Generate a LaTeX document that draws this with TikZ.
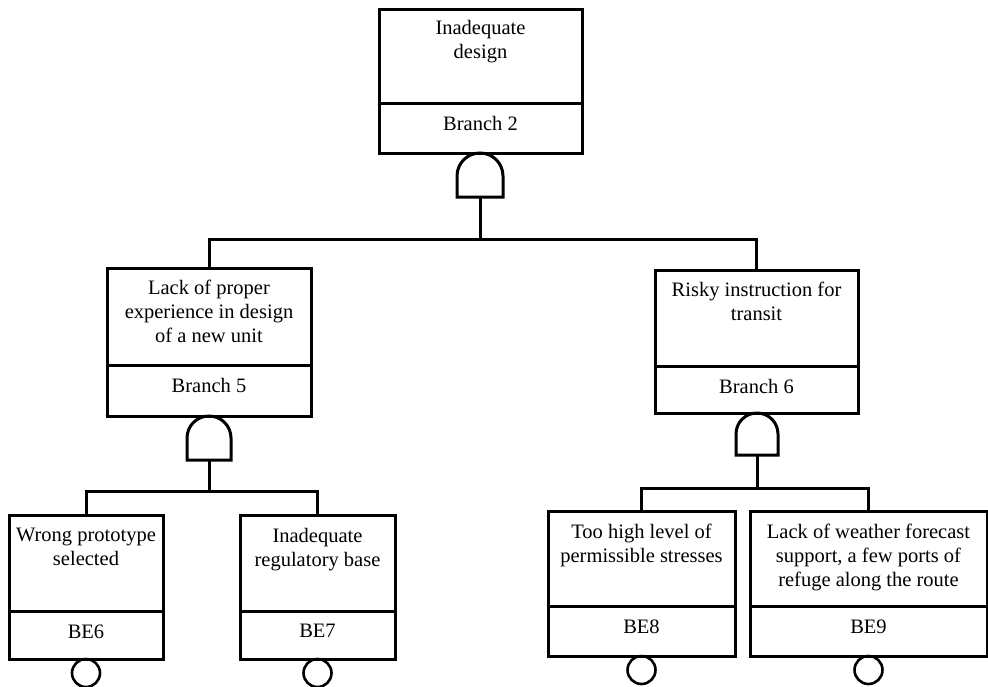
\documentclass[tikz,border=0pt]{standalone}
\usepackage{fontspec}
\setmainfont{Liberation Serif}
\begin{document}
\begin{tikzpicture}[x=1pt,y=-1pt, line width=3pt, line join=miter,
 box/.style={draw, rectangle, inner sep=0pt, outer sep=0pt, anchor=north west},
 lbl/.style={inner sep=0pt, anchor=north, align=center, font=\fontsize{20.5}{24}\selectfont},
 evt/.style={draw, circle, line width=2.6pt, inner sep=0pt, outer sep=0pt, minimum size=28pt, anchor=north}]
\useasboundingbox (0,0) rectangle (988,686);

% ---------- top event ----------
\node[box, minimum width=203pt, minimum height=144pt] (b2) at (379,9) {};
\draw (379,103) -- (582,103);
\node[lbl] (t2) at (b2.north) [yshift=-10pt] {Inadequate\\design};
\node[lbl] (t2b) at (480.5,115) {Branch 2};
\coordinate (g2b) at (480,197);
\draw (g2b) ++(-23,0) -- ++(0,-21) arc(180:360:23) -- ++(0,21) -- cycle;
\coordinate (bus2) at (480,239);
\draw (g2b) -- (bus2);

% ---------- branch 5 ----------
\node[box, minimum width=204pt, minimum height=148pt] (b5) at (107,268) {};
\draw (107,365) -- (311,365);
\node[lbl] (t5) at (b5.north) [yshift=-11pt] {Lack of proper\\experience in design\\of a new unit};
\node[lbl] (t5b) at (209,377) {Branch 5};
\coordinate (g5b) at (209,460);
\draw (g5b) ++(-22,0) -- ++(0,-22) arc(180:360:22) -- ++(0,22) -- cycle;
\coordinate (bus5) at (209,491);
\draw (g5b) -- (bus5);

% ---------- branch 6 ----------
\node[box, minimum width=203pt, minimum height=143pt] (b6) at (655,270) {};
\draw (655,366) -- (858,366);
\node[lbl] (t6) at (b6.north) [yshift=-11pt] {Risky instruction for\\transit};
\node[lbl] (t6b) at (756.5,378) {Branch 6};
\coordinate (g6b) at (757,455);
\draw (g6b) ++(-21,0) -- ++(0,-21) arc(180:360:21) -- ++(0,21) -- cycle;
\coordinate (bus6) at (757,488);
\draw (g6b) -- (bus6);

\draw (b5.north) |- (bus2) -| (b6.north);

% ---------- basic events ----------
\node[box, minimum width=154pt, minimum height=144pt] (be6) at (9,515) {};
\draw (9,611) -- (163,611);
\node[lbl] (t6e) at (be6.north) [yshift=-12pt] {Wrong prototype\\selected};
\node[lbl] (t6eb) at (86,623) {BE6};
\node[evt] (c6) at (be6.south) {};

\node[box, minimum width=155pt, minimum height=144pt] (be7) at (240,515) {};
\draw (240,611) -- (395,611);
\node[lbl] (t7e) at (be7.north) [yshift=-12pt] {Inadequate\\regulatory base};
\node[lbl] (t7eb) at (317.5,623) {BE7};
\node[evt] (c7) at (be7.south) {};

\draw (be6.north) |- (bus5) -| (be7.north);

\node[box, minimum width=187pt, minimum height=145pt] (be8) at (548,511) {};
\draw (548,606) -- (735,606);
\node[lbl] (t8e) at (be8.north) [yshift=-12pt] {Too high level of\\permissible stresses};
\node[lbl] (t8eb) at (641.5,618) {BE8};
\node[evt] (c8) at (be8.south) {};

\node[box, minimum width=237pt, minimum height=145pt] (be9) at (750,511) {};
\draw (750,606) -- (987,606);
\node[lbl] (t9e) at (be9.north) [yshift=-12pt] {Lack of weather forecast\\support, a few ports of\\refuge along the route};
\node[lbl] (t9eb) at (868.5,618) {BE9};
\node[evt] (c9) at (be9.south) {};

\draw (be8.north) |- (bus6) -| (be9.north);
\end{tikzpicture}
\end{document}
